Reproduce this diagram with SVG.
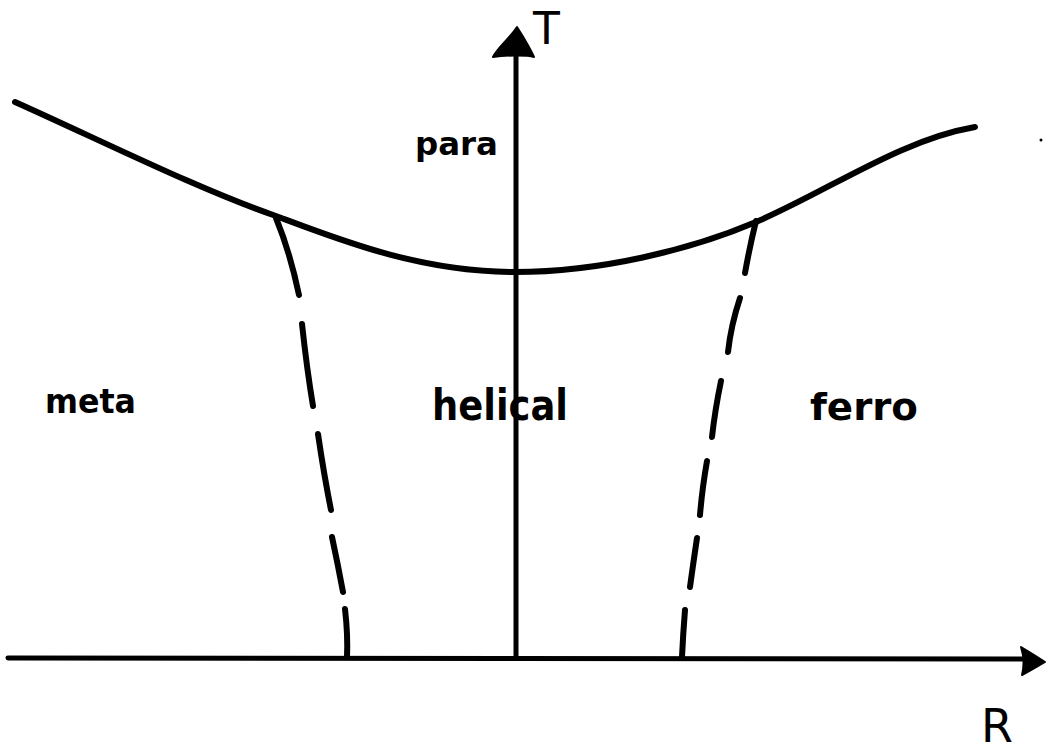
<svg xmlns="http://www.w3.org/2000/svg" width="1046" height="751" viewBox="0 0 1046 751">
<style>
.ln{fill:none;stroke:#000;stroke-width:6;stroke-linecap:round;stroke-linejoin:round}
.ax{fill:none;stroke:#000;stroke-width:5;stroke-linecap:round}
.hd{fill:#000;stroke:#000;stroke-width:2;stroke-linejoin:round}
.lb{font-family:"DejaVu Sans","Liberation Sans",sans-serif;fill:#000;font-weight:bold}
.ax-lb{font-family:"DejaVu Sans","Liberation Sans",sans-serif;fill:#000;font-weight:normal}
</style>
<rect width="1046" height="751" fill="#fff"/>
<g id="connectors">
<g id="axes">
<line class="ax" x1="516" y1="658" x2="516" y2="50"/>
<path class="hd" d="M517,27 C510,38 497,48 493,57 C505,55 528,55 534,57 C530,48 524,38 517,27 Z"/>
<line class="ax" x1="8" y1="658" x2="1025" y2="659"/>
<path class="hd" d="M1045,662 C1036,656 1026,650 1021,647 C1024,656 1024,667 1022,675 C1030,671 1038,666 1045,662 Z"/>
</g>
<path id="phase-boundary" class="ln" d="M15,102 C100,140 200,190 276,216 C340,240 420,272 515,272 C600,272 690,250 756,222 C830,190 900,140 975,127"/>
<g id="left-dashed">
<path class="ln" d="M276,218 Q290,252 299,295"/>
<path class="ln" d="M302,324 Q307,370 313,406"/>
<path class="ln" d="M318,434 Q324,475 331,510"/>
<path class="ln" d="M332,537 Q338,565 343,592"/>
<path class="ln" d="M345,609 Q348,635 347,657"/>
</g>
<g id="right-dashed">
<path class="ln" d="M756,221 Q750,245 745,273"/>
<path class="ln" d="M740,298 Q731,325 728,352"/>
<path class="ln" d="M721,381 Q715,410 712,437"/>
<path class="ln" d="M707,461 Q702,490 700,515"/>
<path class="ln" d="M697,538 Q693,565 690,587"/>
<path class="ln" d="M685,610 Q683,635 682,657"/>
</g>
</g>
<g id="label-T"><text class="ax-lb" x="533" y="44" font-size="44">T</text></g>
<g id="label-R"><text class="ax-lb" x="981" y="742" font-size="46">R</text></g>
<g id="label-para"><text class="lb" x="415" y="155" font-size="32" textLength="83" lengthAdjust="spacingAndGlyphs">para</text></g>
<g id="label-helical"><text class="lb" x="432" y="420" font-size="42" textLength="136" lengthAdjust="spacingAndGlyphs">helical</text></g>
<g id="label-meta"><text class="lb" x="45" y="413" font-size="34" textLength="91" lengthAdjust="spacingAndGlyphs">meta</text></g>
<g id="label-ferro"><text class="lb" x="810" y="420" font-size="38" textLength="108" lengthAdjust="spacingAndGlyphs">ferro</text></g>
<circle cx="1041" cy="140" r="1.5" fill="#000"/>
</svg>
